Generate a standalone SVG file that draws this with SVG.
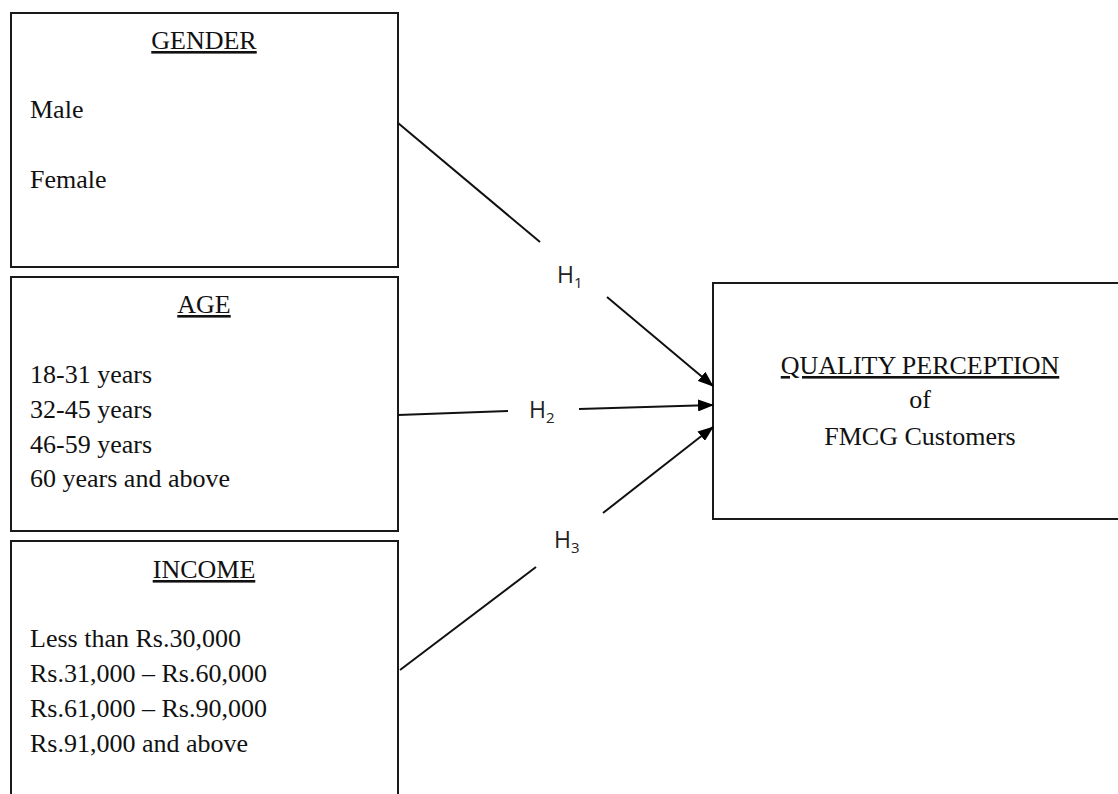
<svg xmlns="http://www.w3.org/2000/svg" width="1118" height="794" viewBox="0 0 1118 794">
<style>
.box{fill:#fff;stroke:#1a1a1a;stroke-width:2}
.t{font-family:"Liberation Serif","Times New Roman",serif;font-size:26px;fill:#111}
.u{text-decoration:underline}
.c{text-anchor:middle}
.h{font-family:"Open Sans","Liberation Sans",sans-serif;font-size:23px;fill:#222}
.s{font-size:15px}
.ln{stroke:#111;stroke-width:2;fill:none}
</style>
<defs>
<marker id="ah" markerWidth="16" markerHeight="12" refX="15" refY="6" orient="auto" markerUnits="userSpaceOnUse">
<path d="M0,0 L16,6 L0,12 Z" fill="#000"/>
</marker>
</defs>
<rect width="1118" height="794" fill="#fff"/>
<g id="gender">
<rect class="box" x="11" y="13" width="387" height="254"/>
<text class="t u c" x="204" y="49">GENDER</text>
<text class="t" x="30" y="118">Male</text>
<text class="t" x="30" y="188">Female</text>
</g>
<g id="age">
<rect class="box" x="11" y="277" width="387" height="254"/>
<text class="t u c" x="204" y="313">AGE</text>
<text class="t" x="30" y="383">18-31 years</text>
<text class="t" x="30" y="418">32-45 years</text>
<text class="t" x="30" y="453">46-59 years</text>
<text class="t" x="30" y="487">60 years and above</text>
</g>
<g id="income">
<rect class="box" x="11" y="541" width="387" height="270"/>
<text class="t u c" x="204" y="578">INCOME</text>
<text class="t" x="30" y="647">Less than Rs.30,000</text>
<text class="t" x="30" y="682">Rs.31,000 – Rs.60,000</text>
<text class="t" x="30" y="717">Rs.61,000 – Rs.90,000</text>
<text class="t" x="30" y="752">Rs.91,000 and above</text>
</g>
<g id="quality">
<rect class="box" x="713" y="283" width="420" height="236"/>
<text class="t u c" x="920" y="374">QUALITY PERCEPTION</text>
<text class="t c" x="920" y="408">of</text>
<text class="t c" x="920" y="445">FMCG Customers</text>
</g>
<g id="connectors">
<line class="ln" x1="398" y1="123" x2="540" y2="242"/>
<line class="ln" x1="607" y1="297" x2="713" y2="386" marker-end="url(#ah)"/>
<line class="ln" x1="398" y1="415" x2="508" y2="411"/>
<line class="ln" x1="579" y1="409" x2="713" y2="405" marker-end="url(#ah)"/>
<line class="ln" x1="400" y1="670" x2="536" y2="567"/>
<line class="ln" x1="603" y1="513" x2="713" y2="427" marker-end="url(#ah)"/>
<text class="h" x="557" y="283">H<tspan class="s" dy="5">1</tspan></text>
<text class="h" x="529" y="418">H<tspan class="s" dy="5">2</tspan></text>
<text class="h" x="554" y="548">H<tspan class="s" dy="5">3</tspan></text>
</g>
</svg>
